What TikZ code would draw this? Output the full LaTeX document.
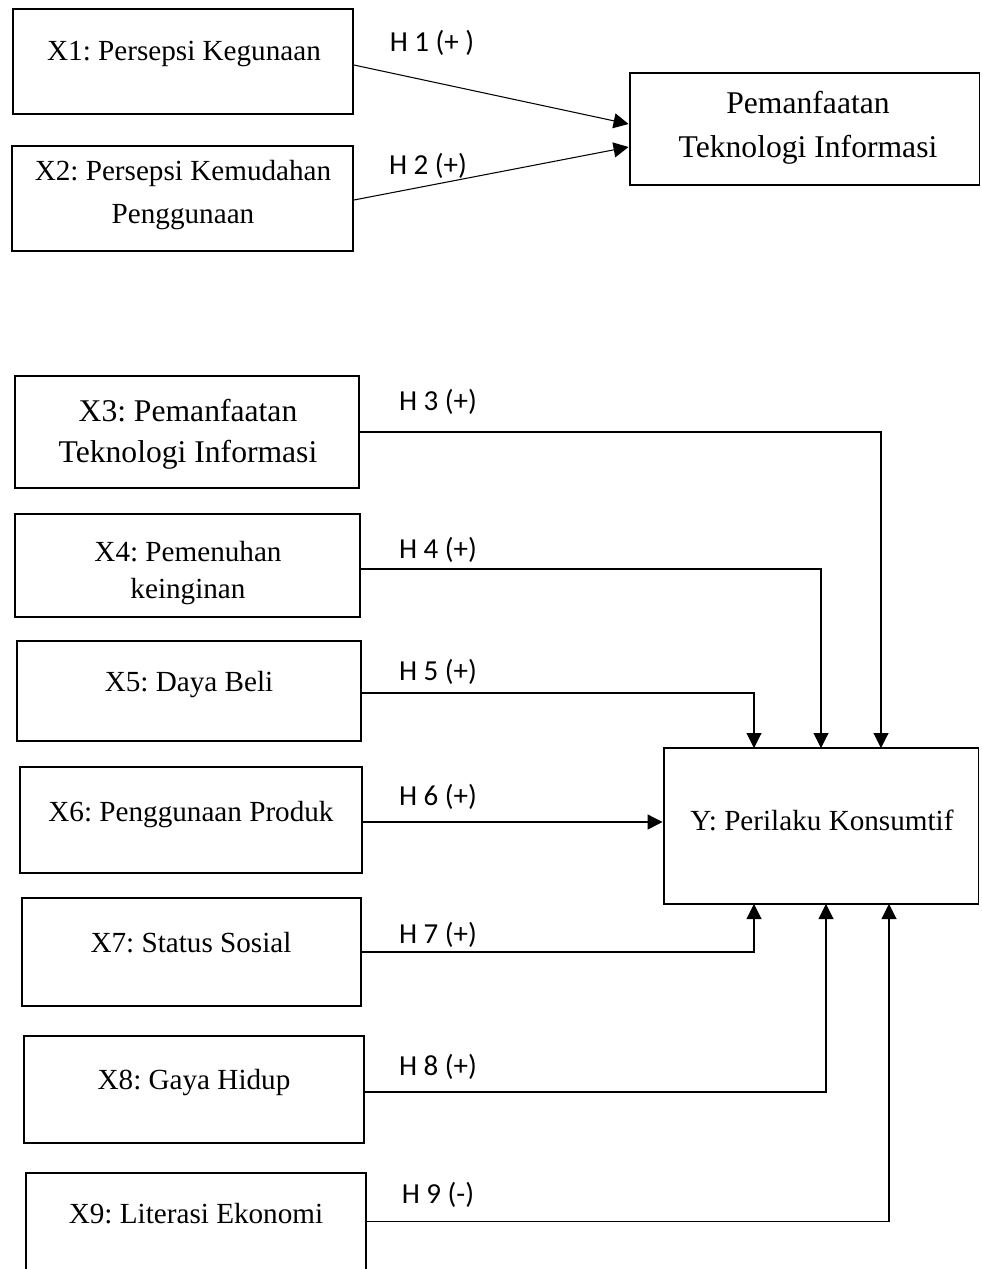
\documentclass[tikz,border=0pt]{standalone}
\usepackage{fontspec}
\setmainfont{Liberation Serif}
\newfontfamily\hfont{Carlito}
\frenchspacing
\usetikzlibrary{arrows.meta}
\tikzset{>={Triangle[length=0.3cm,width=0.3cm]}}
\tikzset{
  varbox/.style={draw, line width=1.1pt, inner sep=0pt, minimum width=#1},
  vartext/.style={font=\fontsize{16.6}{24}\selectfont, align=center},
  bigtext/.style={font=\fontsize{18}{23.5}\selectfont, align=center},
  hyp/.style={font=\hfont\fontsize{16.5}{18}\selectfont},
  link/.style={line width=0.6pt}
}

\begin{document}
\begin{tikzpicture}[x=0.02cm, y=-0.02cm]
\clip (0,0) rectangle (982,1269);
\useasboundingbox (0,0) rectangle (982,1269);
% upper model
\node[varbox=6.8cm, minimum height=2.1cm] (x1) at (183,61.5) {};
\node[varbox=6.82cm, minimum height=2.1cm] (x2) at (182.5,198.5) {};
\node[varbox=7cm, minimum height=2.24cm] (pti) at (804.5,129) {};
\node[vartext] (x1t) at (184,54) {X1: Persepsi Kegunaan};
\node[vartext] (x2t) at (183,195) {X2: Persepsi Kemudahan\\Penggunaan};
\node[bigtext, font=\fontsize{18}{25}\selectfont] (ptit) at (808,128) {Pemanfaatan\\Teknologi Informasi};
\draw[->, link] ([yshift=-0.07cm]x1.east) -- ([yshift=0.1cm]pti.west);
\draw[->, link] ([yshift=-0.03cm]x2.east) -- ([yshift=-0.36cm]pti.west);
\node[hyp] (h1) at (432,43) {H 1 (+ )};
\node[hyp] (h2) at (428,166) {H 2 (+)};
% lower model
\node[varbox=6.88cm, minimum height=2.24cm] (x3) at (187,432) {};
\node[varbox=6.9cm, minimum height=2.06cm] (x4) at (187.5,565.5) {};
\node[varbox=6.88cm, minimum height=2cm] (x5) at (189,691) {};
\node[varbox=6.84cm, minimum height=2.12cm] (x6) at (191,820) {};
\node[varbox=6.78cm, minimum height=2.16cm] (x7) at (191.5,952) {};
\node[varbox=6.8cm, minimum height=2.14cm] (x8) at (194,1089.5) {};
\node[varbox=6.8cm, minimum height=2.34cm] (x9) at (196,1231.5) {};
\node[varbox=6.3cm, minimum height=3.12cm] (y) at (821,826) {};
\node[bigtext] (x3t) at (188,434) {X3: Pemanfaatan\\Teknologi Informasi};
\node[vartext, font=\fontsize{16.6}{21}\selectfont] (x4t) at (188,573) {X4: Pemenuhan\\keinginan};
\node[vartext] (x5t) at (189,685) {X5: Daya Beli};
\node[vartext] (x6t) at (191,815) {X6: Penggunaan Produk};
\node[vartext] (x7t) at (191,943) {X7: Status Sosial};
\node[vartext] (x8t) at (194,1083) {X8: Gaya Hidup};
\node[vartext] (x9t) at (196,1214) {X9: Literasi Ekonomi};
\node[vartext] (yt) at (822,820) {Y: Perilaku Konsumtif};
\coordinate (y3) at (881,748);
\coordinate (y4) at (821,748);
\coordinate (y5) at (754,748);
\coordinate (y7) at (754,904);
\coordinate (y8) at (826,904);
\coordinate (y9) at (889,904);
\coordinate (s6) at ([yshift=-0.04cm]x6.east);
\draw[->, link] (x3.east) -| (y3);
\draw[->, link] ([yshift=-0.07cm]x4.east) -| (y4);
\draw[->, link] ([yshift=-0.04cm]x5.east) -| (y5);
\draw[->, link] (s6) -- (s6 -| y.west);
\draw[->, link] (x7.east) -| (y7);
\draw[->, link] ([yshift=-0.05cm]x8.east) -| (y8);
\draw[->, link] ([yshift=0.2cm]x9.east) -| (y9);
\foreach \n/\t/\yy in {3/+/402, 4/+/550, 5/+/672, 6/+/797, 7/+/935, 8/+/1067, 9/-/1195}
  \node[hyp] (h\n) at (438,\yy) {H \n\ (\t)};
\end{tikzpicture}
\end{document}
